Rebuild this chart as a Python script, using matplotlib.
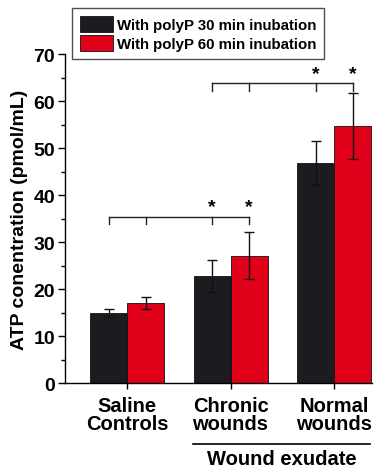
import numpy as np
import matplotlib
matplotlib.use('Agg')
import matplotlib.pyplot as plt
from matplotlib.ticker import MultipleLocator

plt.rcParams['font.family'] = ['Liberation Sans', 'DejaVu Sans']
plt.rcParams['font.weight'] = 'bold'

# Data
groups = ['Saline\nControls', 'Chronic\nwounds', 'Normal\nwounds']
series_labels = ['With polyP 30 min inubation', 'With polyP 60 min inubation']
atp_30 = [15.0, 22.9, 46.9]
err_30 = [0.8, 3.4, 4.7]
atp_60 = [17.1, 27.2, 54.7]
err_60 = [1.3, 5.0, 7.0]
colors = ['#1c1b20', '#e1001a']

# significance brackets: (from group, to group, height), stars on second group
brackets = [(0, 1, 35.5), (1, 2, 63.8)]

fig = plt.figure(figsize=(3.84, 4.77), dpi=100)
ax = fig.add_axes([0.169, 0.194, 0.800, 0.690])

x = np.arange(len(groups))
w = 0.357
ekw = dict(ecolor='#111111', elinewidth=1.0, capsize=3.5, capthick=1.0)
b1 = ax.bar(x - w / 2, atp_30, w, yerr=err_30, color=colors[0],
            edgecolor='#111111', linewidth=0.6, error_kw=ekw, label=series_labels[0])
b2 = ax.bar(x + w / 2, atp_60, w, yerr=err_60, color=colors[1],
            edgecolor='#111111', linewidth=0.6, error_kw=ekw, label=series_labels[1])

ax.set_xlim(-0.60, 2.367)
ax.set_ylim(0, 70)
ax.yaxis.set_major_locator(MultipleLocator(10))
ax.yaxis.set_minor_locator(MultipleLocator(5))
ax.set_xticks(x)
ax.set_xticklabels([])
for s in ['top', 'right']:
    ax.spines[s].set_visible(False)
for s in ['left', 'bottom']:
    ax.spines[s].set_linewidth(1.0)
ax.tick_params(axis='y', which='major', length=5, width=1, labelsize=14, pad=2)
ax.tick_params(axis='y', which='minor', length=3, width=1)
ax.tick_params(axis='x', length=4, width=1)
for lab in ax.get_yticklabels():
    lab.set_fontweight('bold')
ax.set_ylabel('ATP conentration (pmol/mL)', fontsize=14, fontweight='bold', labelpad=4)

# category labels
for xi, g in zip(x, groups):
    ax.text(xi, -2.6, g, ha='center', va='top', fontsize=14.5, fontweight='bold',
            linespacing=0.95, transform=ax.transData)

# wound exudate grouping
ax.plot([0.64, 2.35], [-12.8, -12.8], color='black', lw=1.2, clip_on=False)
ax.text(1.495, -14.0, 'Wound exudate', ha='center', va='top', fontsize=14.5,
        fontweight='bold')

# significance brackets
for g0, g1, h in brackets:
    pts = [g0 - w / 2, g0 + w / 2, g1 - w / 2, g1 + w / 2]
    ax.plot([pts[0], pts[-1]], [h, h], color='#222222', lw=1.0)
    for p in pts:
        ax.plot([p, p], [h, h - 1.5], color='#222222', lw=1.0)
    for p in pts[2:]:
        ax.text(p, h + 0.4, '*', ha='center', va='bottom', fontsize=14, fontweight='bold')

fig.legend(handles=[b1, b2], labels=series_labels, loc='upper left',
           bbox_to_anchor=(72 / 384, 1 - 9 / 477), frameon=True,
           fancybox=False, edgecolor='#222222', handlelength=2.2, handleheight=1.3,
           handletextpad=0.3, borderpad=0.5, labelspacing=0.2, borderaxespad=0,
           prop={'weight': 'bold', 'size': 10.8})
fig.legends[0].get_frame().set_linewidth(1.0)

fig.savefig('out.png', dpi=100)
